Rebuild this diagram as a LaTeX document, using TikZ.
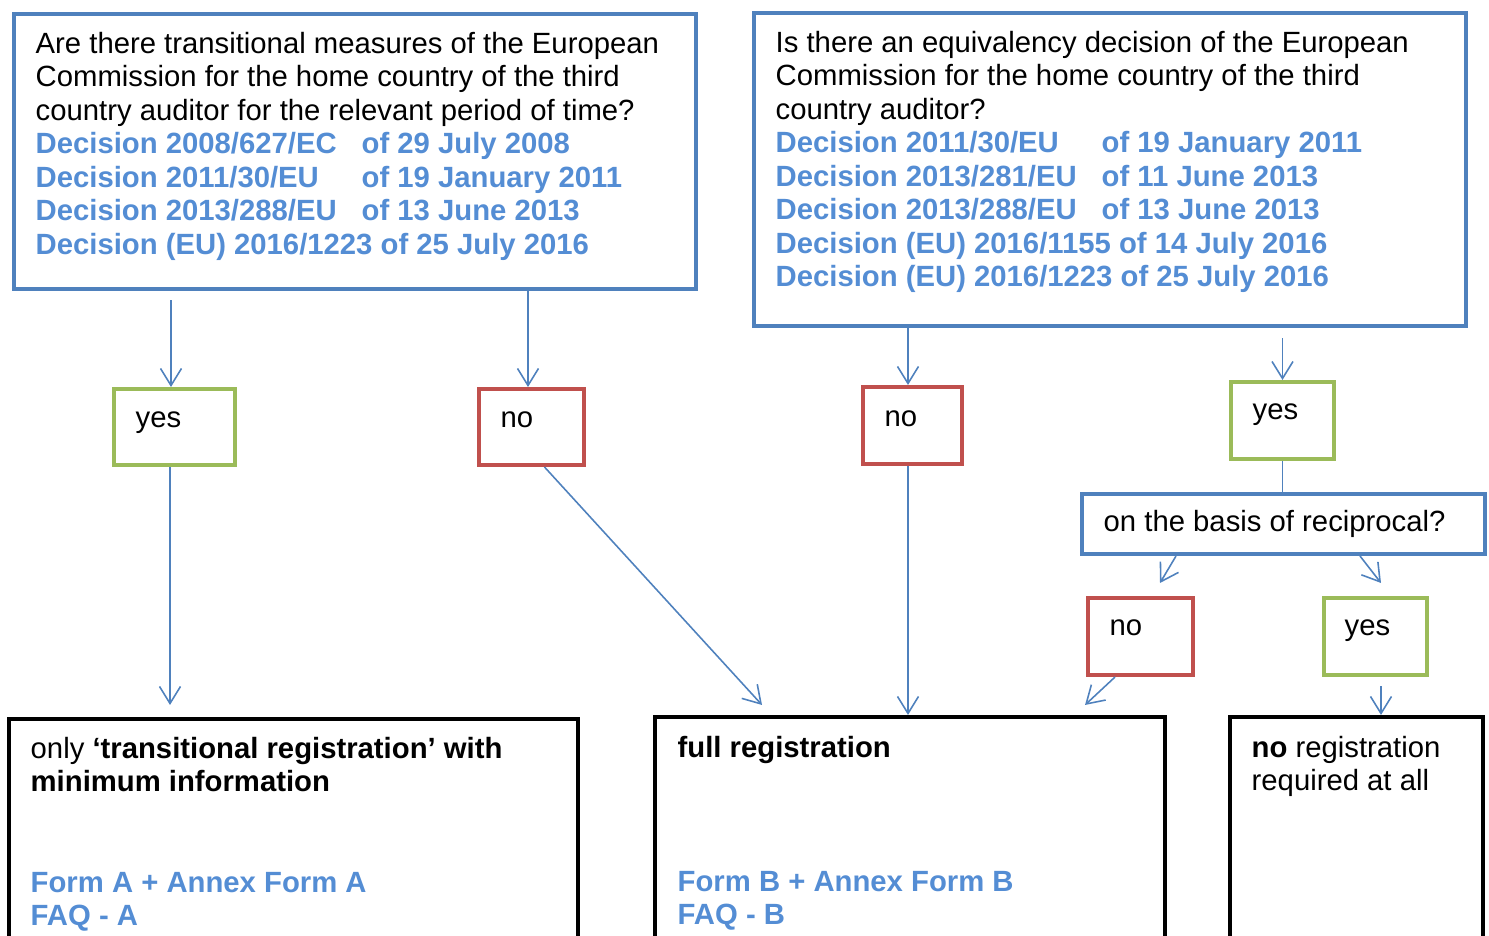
\documentclass[tikz,border=0pt]{standalone}
\usepackage{fontspec}
\setmainfont{Liberation Sans}
\usetikzlibrary{arrows.meta}
\definecolor{box_blue}{RGB}{79,129,189}
\definecolor{box_green}{RGB}{155,187,89}
\definecolor{box_red}{RGB}{192,80,77}
\definecolor{link_blue}{RGB}{84,141,212}
\newcommand{\declink}[2]{\textcolor{link_blue}{\bfseries\makebox[3.26cm][l]{#1}#2}}
\newcommand{\linkline}[1]{\textcolor{link_blue}{\bfseries #1}}

\begin{document}
\begin{tikzpicture}[->,>={Straight Barb[length=1.7mm,width=2.1mm]},font=\fontsize{8.33}{9.53}\selectfont]
    \tikzstyle{question}=[draw=box_blue, line width=1.15pt, rectangle, inner sep=0pt]
    \tikzstyle{yesbox}=[draw=box_green, line width=1.15pt, rectangle, inner sep=0pt]
    \tikzstyle{nobox}=[draw=box_red, line width=1.15pt, rectangle, inner sep=0pt]
    \tikzstyle{result}=[draw=black, line width=1.15pt, rectangle, inner sep=0pt]
    \tikzstyle{boxtext}=[anchor=north west, align=left, inner sep=0pt, text=black]
    \tikzstyle{word}=[anchor=base west, inner sep=0pt, text=black]
    \tikzstyle{flow}=[draw=box_blue, line width=0.45pt]

    \useasboundingbox (0,0) rectangle (14.89,-9.36);
    \clip (0,0) rectangle (14.89,-9.36);

    \node[question, minimum width=6.82cm, minimum height=2.75cm] (q1) at (3.55,-1.515) {};
    \node[question, minimum width=7.12cm, minimum height=3.13cm] (q2) at (11.10,-1.695) {};
    \node[yesbox, minimum width=1.21cm, minimum height=0.76cm] (yes1) at (1.745,-4.27) {};
    \node[nobox, minimum width=1.05cm, minimum height=0.76cm] (no1) at (5.315,-4.27) {};
    \node[nobox, minimum width=0.99cm, minimum height=0.77cm] (no2) at (9.125,-4.255) {};
    \node[yesbox, minimum width=1.03cm, minimum height=0.77cm] (yes2) at (12.825,-4.205) {};
    \node[question, minimum width=4.03cm, minimum height=0.60cm] (recip) at (12.835,-5.24) {};
    \node[nobox, minimum width=1.05cm, minimum height=0.77cm] (no3) at (11.405,-6.365) {};
    \node[yesbox, minimum width=1.03cm, minimum height=0.77cm] (yes3) at (13.755,-6.365) {};
    \node[result, minimum width=5.69cm, minimum height=2.41cm] (regA) at (2.935,-8.395) {};
    \node[result, minimum width=5.10cm, minimum height=2.43cm] (regB) at (9.10,-8.385) {};
    \node[result, minimum width=2.53cm, minimum height=2.43cm] (regC) at (13.565,-8.385) {};

    \node[boxtext] (q1t) at (0.35,-0.315) {Are there transitional measures of the European\\
      Commission for the home country of the third\\
      country auditor for the relevant period of time?\\
      \declink{Decision 2008/627/EC}{of 29 July 2008}\\
      \declink{Decision 2011/30/EU}{of 19 January 2011}\\
      \declink{Decision 2013/288/EU}{of 13 June 2013}\\
      \linkline{Decision (EU) 2016/1223 of 25 July 2016}};
    \node[boxtext] (q2t) at (7.75,-0.305) {Is there an equivalency decision of the European\\
      Commission for the home country of the third\\
      country auditor?\\
      \declink{Decision 2011/30/EU}{of 19 January 2011}\\
      \declink{Decision 2013/281/EU}{of 11 June 2013}\\
      \declink{Decision 2013/288/EU}{of 13 June 2013}\\
      \linkline{Decision (EU) 2016/1155 of 14 July 2016}\\
      \linkline{Decision (EU) 2016/1223 of 25 July 2016}};
    \node[word] (yes1t) at (1.35,-4.28) {yes};
    \node[word] (no1t) at (5.00,-4.28) {no};
    \node[word] (no2t) at (8.84,-4.27) {no};
    \node[word] (yes2t) at (12.52,-4.20) {yes};
    \node[word] (recipt) at (11.03,-5.32) {on the basis of reciprocal?};
    \node[word] (no3t) at (11.09,-6.36) {no};
    \node[word] (yes3t) at (13.44,-6.36) {yes};
    \node[boxtext] (regAt) at (0.30,-7.365) {only \textbf{‘transitional registration’ with}\\
      \textbf{minimum information}\\[19pt]
      \linkline{Form A + Annex Form A}\\
      \linkline{FAQ - A}};
    \node[boxtext] (regBt) at (6.77,-7.355) {\textbf{full registration}\\[28.6pt]
      \linkline{Form B + Annex Form B}\\
      \linkline{FAQ - B}};
    \node[boxtext] (regCt) at (12.51,-7.355) {\textbf{no} registration\\
      required at all};

    \path
     ([xshift=-0.035cm]yes1.north |- q1.south) edge[flow, shorten <=0.09cm] ([xshift=-0.035cm]yes1.north)
     ([xshift=-0.035cm]no1.north |- q1.south) edge[flow] ([xshift=-0.035cm]no1.north)
     ([xshift=-0.045cm]yes1.south) edge[flow, shorten >=0.12cm] ([xshift=-0.045cm]yes1.south |- regA.north)
     ([xshift=0.13cm]no1.south) edge[flow] ([shift={(-1.48,0.10)}]regB.north)
     ([xshift=-0.045cm]no2.north |- q2.south) edge[flow] ([xshift=-0.045cm]no2.north)
     ([xshift=-0.045cm]no2.south) edge[flow] ([xshift=-0.045cm]no2.south |- regB.north)
     (yes2.north |- q2.south) edge[flow, shorten <=0.10cm] (yes2.north)
     (yes2.south) edge[flow, -] (yes2.south |- recip.north)
     ([xshift=-1.075cm]recip.south) edge[flow] ([shift={(0.195,0.13)}]no3.north)
     ([xshift=0.765cm]recip.south) edge[flow] ([shift={(0.055,0.13)}]yes3.north)
     ([xshift=-0.255cm]no3.south) edge[flow] ([shift={(-0.82,0.10)}]regB.north east)
     ([xshift=0.055cm]yes3.south) edge[flow, shorten <=0.09cm] ([xshift=0.055cm]yes3.south |- regC.north)
     ;
\end{tikzpicture}
\end{document}
